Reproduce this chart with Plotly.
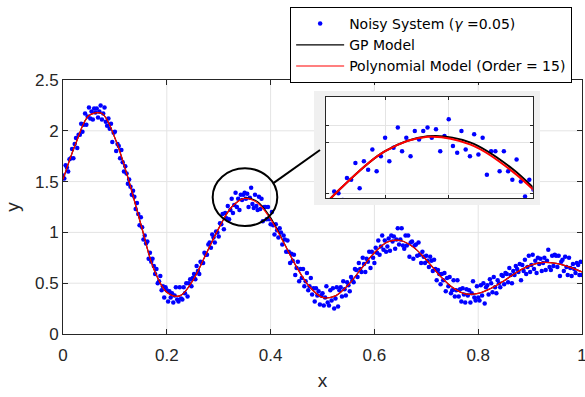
import plotly.graph_objects as go

# ---------------- data ----------------
model_x = [0.000, 0.025, 0.050, 0.075, 0.100, 0.125, 0.150, 0.175, 0.200, 0.225,
           0.250, 0.275, 0.300, 0.325, 0.350, 0.375, 0.400, 0.425, 0.450, 0.475,
           0.500, 0.525, 0.550, 0.575, 0.600, 0.625, 0.650, 0.675, 0.700, 0.725,
           0.750, 0.775, 0.800, 0.825, 0.850, 0.875, 0.900, 0.925, 0.950, 0.975, 1.000]
poly_y = [1.52, 1.88, 2.15, 2.17, 1.93, 1.54, 1.08, 0.64, 0.41, 0.375,
          0.525, 0.78, 1.04, 1.25, 1.335, 1.29, 1.13, 0.90, 0.66, 0.465,
          0.36, 0.375, 0.485, 0.645, 0.80, 0.905, 0.92, 0.855, 0.73, 0.58,
          0.46, 0.395, 0.40, 0.45, 0.525, 0.61, 0.675, 0.705, 0.695, 0.66, 0.61]
gp_y = [1.52, 1.88, 2.15, 2.17, 1.93, 1.54, 1.08, 0.64, 0.41, 0.375,
        0.525, 0.78, 1.04, 1.25, 1.338, 1.302, 1.145, 0.905, 0.66, 0.465,
        0.36, 0.375, 0.485, 0.645, 0.80, 0.905, 0.92, 0.855, 0.73, 0.58,
        0.46, 0.395, 0.40, 0.45, 0.525, 0.61, 0.675, 0.705, 0.695, 0.66, 0.61]

noisy_x = [
    0.0, 0.0025, 0.005, 0.0075, 0.01, 0.0125, 0.015, 0.0175, 0.02, 0.0225,
    0.025, 0.0275, 0.03, 0.0325, 0.035, 0.0375, 0.04, 0.0425, 0.045, 0.0475,
    0.05, 0.0525, 0.055, 0.0575, 0.06, 0.0625, 0.065, 0.0675, 0.07, 0.0725,
    0.075, 0.0775, 0.08, 0.0825, 0.085, 0.0875, 0.09, 0.0925, 0.095, 0.0975,
    0.1, 0.1025, 0.105, 0.1075, 0.11, 0.1125, 0.115, 0.1175, 0.12, 0.1225,
    0.125, 0.1275, 0.13, 0.1325, 0.135, 0.1375, 0.14, 0.1425, 0.145, 0.1475,
    0.15, 0.1525, 0.155, 0.1575, 0.16, 0.1625, 0.165, 0.1675, 0.17, 0.1725,
    0.175, 0.1775, 0.18, 0.1825, 0.185, 0.1875, 0.19, 0.1925, 0.195, 0.1975,
    0.2, 0.2025, 0.205, 0.2075, 0.21, 0.2125, 0.215, 0.2175, 0.22, 0.2225,
    0.225, 0.2275, 0.23, 0.2325, 0.235, 0.2375, 0.24, 0.2425, 0.245, 0.2475,
    0.25, 0.2525, 0.255, 0.2575, 0.26, 0.2625, 0.265, 0.2675, 0.27, 0.2725,
    0.275, 0.2775, 0.28, 0.2825, 0.285, 0.2875, 0.29, 0.2925, 0.295, 0.2975,
    0.3, 0.3025, 0.305, 0.3075, 0.31, 0.3125, 0.315, 0.3175, 0.32, 0.3225,
    0.325, 0.3275, 0.33, 0.3325, 0.335, 0.3375, 0.34, 0.3425, 0.345, 0.3475,
    0.35, 0.3525, 0.355, 0.3575, 0.36, 0.3625, 0.365, 0.3675, 0.37, 0.3725,
    0.375, 0.3775, 0.38, 0.3825, 0.385, 0.3875, 0.39, 0.3925, 0.395, 0.3975,
    0.4, 0.4025, 0.405, 0.4075, 0.41, 0.4125, 0.415, 0.4175, 0.42, 0.4225,
    0.425, 0.4275, 0.43, 0.4325, 0.435, 0.4375, 0.44, 0.4425, 0.445, 0.4475,
    0.45, 0.4525, 0.455, 0.4575, 0.46, 0.4625, 0.465, 0.4675, 0.47, 0.4725,
    0.475, 0.4775, 0.48, 0.4825, 0.485, 0.4875, 0.49, 0.4925, 0.495, 0.4975,
    0.5, 0.5025, 0.505, 0.5075, 0.51, 0.5125, 0.515, 0.5175, 0.52, 0.5225,
    0.525, 0.5275, 0.53, 0.5325, 0.535, 0.5375, 0.54, 0.5425, 0.545, 0.5475,
    0.55, 0.5525, 0.555, 0.5575, 0.56, 0.5625, 0.565, 0.5675, 0.57, 0.5725,
    0.575, 0.5775, 0.58, 0.5825, 0.585, 0.5875, 0.59, 0.5925, 0.595, 0.5975,
    0.6, 0.6025, 0.605, 0.6075, 0.61, 0.6125, 0.615, 0.6175, 0.62, 0.6225,
    0.625, 0.6275, 0.63, 0.6325, 0.635, 0.6375, 0.64, 0.6425, 0.645, 0.6475,
    0.65, 0.6525, 0.655, 0.6575, 0.66, 0.6625, 0.665, 0.6675, 0.67, 0.6725,
    0.675, 0.6775, 0.68, 0.6825, 0.685, 0.6875, 0.69, 0.6925, 0.695, 0.6975,
    0.7, 0.7025, 0.705, 0.7075, 0.71, 0.7125, 0.715, 0.7175, 0.72, 0.7225,
    0.725, 0.7275, 0.73, 0.7325, 0.735, 0.7375, 0.74, 0.7425, 0.745, 0.7475,
    0.75, 0.7525, 0.755, 0.7575, 0.76, 0.7625, 0.765, 0.7675, 0.77, 0.7725,
    0.775, 0.7775, 0.78, 0.7825, 0.785, 0.7875, 0.79, 0.7925, 0.795, 0.7975,
    0.8, 0.8025, 0.805, 0.8075, 0.81, 0.8125, 0.815, 0.8175, 0.82, 0.8225,
    0.825, 0.8275, 0.83, 0.8325, 0.835, 0.8375, 0.84, 0.8425, 0.845, 0.8475,
    0.85, 0.8525, 0.855, 0.8575, 0.86, 0.8625, 0.865, 0.8675, 0.87, 0.8725,
    0.875, 0.8775, 0.88, 0.8825, 0.885, 0.8875, 0.89, 0.8925, 0.895, 0.8975,
    0.9, 0.9025, 0.905, 0.9075, 0.91, 0.9125, 0.915, 0.9175, 0.92, 0.9225,
    0.925, 0.9275, 0.93, 0.9325, 0.935, 0.9375, 0.94, 0.9425, 0.945, 0.9475,
    0.95, 0.9525, 0.955, 0.9575, 0.96, 0.9625, 0.965, 0.9675, 0.97, 0.9725,
    0.975, 0.9775, 0.98, 0.9825, 0.985, 0.9875, 0.99, 0.9925, 0.995, 0.9975,
    1.0]
noisy_y = [
    1.56, 1.53, 1.66, 1.64, 1.60, 1.72, 1.73, 1.82, 1.73, 1.87,
    1.93, 1.83, 1.96, 1.96, 2.07, 1.99, 2.06, 2.17, 2.06, 2.14,
    2.23, 2.12, 2.19, 2.11, 2.22, 2.18, 2.22, 2.13, 2.19, 2.25,
    2.11, 2.17, 2.23, 2.09, 2.05, 2.12, 2.02, 2.07, 1.89, 1.98,
    1.99, 1.80, 1.87, 1.85, 1.73, 1.81, 1.69, 1.60, 1.65, 1.58,
    1.48, 1.52, 1.45, 1.37, 1.41, 1.35, 1.23, 1.29, 1.18, 1.07,
    1.15, 1.05, 0.93, 0.97, 0.89, 0.91, 0.74, 0.80, 0.71, 0.74,
    0.67, 0.59, 0.64, 0.50, 0.52, 0.57, 0.43, 0.47, 0.36, 0.46,
    0.43, 0.32, 0.42, 0.36, 0.40, 0.31, 0.38, 0.46, 0.34, 0.32,
    0.46, 0.35, 0.34, 0.46, 0.40, 0.50, 0.37, 0.50, 0.54, 0.47,
    0.55, 0.59, 0.54, 0.67, 0.62, 0.59, 0.71, 0.70, 0.70, 0.80,
    0.78, 0.78, 0.88, 0.90, 0.85, 0.98, 0.95, 0.90, 1.01, 1.00,
    0.96, 1.09, 1.08, 1.18, 1.03, 1.19, 1.14, 1.26, 1.13, 1.22,
    1.33, 1.19, 1.27, 1.39, 1.25, 1.33, 1.22, 1.37, 1.32, 1.37,
    1.39, 1.33, 1.38, 1.25, 1.34, 1.44, 1.28, 1.24, 1.37, 1.26,
    1.22, 1.35, 1.23, 1.33, 1.11, 1.25, 1.25, 1.13, 1.25, 1.13,
    1.08, 1.20, 1.07, 0.98, 1.08, 1.02, 0.95, 1.04, 1.00, 0.88,
    0.97, 0.93, 0.81, 0.92, 0.81, 0.70, 0.79, 0.72, 0.78, 0.58,
    0.65, 0.71, 0.52, 0.64, 0.55, 0.64, 0.47, 0.52, 0.60, 0.43,
    0.47, 0.55, 0.39, 0.45, 0.32, 0.45, 0.38, 0.42, 0.29, 0.38,
    0.40, 0.28, 0.36, 0.47, 0.31, 0.28, 0.43, 0.33, 0.45, 0.25,
    0.35, 0.46, 0.27, 0.43, 0.46, 0.37, 0.52, 0.44, 0.38, 0.51,
    0.48, 0.42, 0.56, 0.53, 0.51, 0.64, 0.63, 0.56, 0.70, 0.64,
    0.61, 0.75, 0.69, 0.61, 0.74, 0.71, 0.81, 0.65, 0.81, 0.75,
    0.70, 0.85, 0.80, 0.92, 0.78, 0.86, 0.97, 0.83, 0.92, 0.81,
    0.86, 0.94, 0.82, 0.97, 0.91, 0.96, 0.84, 0.93, 1.04, 0.88,
    0.93, 1.04, 0.87, 0.84, 0.97, 0.87, 0.97, 0.76, 0.90, 0.91,
    0.74, 0.87, 0.88, 0.77, 0.90, 0.78, 0.70, 0.81, 0.76, 0.70,
    0.77, 0.72, 0.66, 0.76, 0.72, 0.62, 0.73, 0.64, 0.53, 0.63,
    0.59, 0.49, 0.59, 0.53, 0.60, 0.42, 0.55, 0.47, 0.56, 0.40,
    0.43, 0.53, 0.37, 0.43, 0.53, 0.37, 0.44, 0.32, 0.45, 0.39,
    0.31, 0.44, 0.38, 0.43, 0.31, 0.40, 0.52, 0.36, 0.33, 0.47,
    0.36, 0.33, 0.48, 0.38, 0.50, 0.30, 0.46, 0.48, 0.39, 0.54,
    0.50, 0.41, 0.56, 0.46, 0.40, 0.53, 0.50, 0.46, 0.58, 0.57,
    0.49, 0.60, 0.59, 0.51, 0.65, 0.58, 0.50, 0.62, 0.58, 0.67,
    0.64, 0.61, 0.69, 0.53, 0.68, 0.62, 0.73, 0.59, 0.66, 0.77,
    0.61, 0.68, 0.78, 0.64, 0.72, 0.60, 0.75, 0.69, 0.74, 0.62,
    0.70, 0.75, 0.63, 0.72, 0.83, 0.66, 0.63, 0.77, 0.67, 0.78,
    0.77, 0.66, 0.77, 0.57, 0.71, 0.73, 0.62, 0.76, 0.66, 0.58,
    0.75, 0.65, 0.57, 0.69, 0.64, 0.60, 0.70, 0.68, 0.58, 0.71,
    0.58]

main_xticks = [0, 0.2, 0.4, 0.6, 0.8, 1]
main_yticks = [0, 0.5, 1, 1.5, 2, 2.5]
inset_xticks = [0.325, 0.3625]
inset_yticks = [1.0, 1.3, 1.4]
inset_xrange = [0.29, 0.412]
inset_yrange = [0.97, 1.57]
zoom_box = dict(x0=0.2884, x1=0.4129, y0=1.063, y1=1.631)

FONT = "Liberation Sans, Arial, sans-serif"
LEGEND_FONT = "DejaVu Sans, Liberation Sans, sans-serif"
AXC = "#262626"
GRID = "#e4e4e4"

fig = go.Figure()
fig.add_trace(go.Scatter(x=noisy_x, y=noisy_y, mode="markers",
                         marker=dict(color="#0000ff", size=4.5),
                         name="Noisy System (<i>γ</i> =0.05)"))
fig.add_trace(go.Scatter(x=model_x, y=gp_y, mode="lines",
                         line=dict(color="black", width=1.2, shape="spline"),
                         name="GP Model"))
fig.add_trace(go.Scatter(x=model_x, y=poly_y, mode="lines",
                         line=dict(color="#ff0000", width=1.2, shape="spline"),
                         name="Polynomial Model (Order = 15)"))
# inset copies
fig.add_trace(go.Scatter(x=noisy_x, y=noisy_y, mode="markers", xaxis="x2", yaxis="y2",
                         marker=dict(color="#0000ff", size=4.5), showlegend=False))
fig.add_trace(go.Scatter(x=model_x, y=gp_y, mode="lines", xaxis="x2", yaxis="y2",
                         line=dict(color="black", width=2, shape="spline"), showlegend=False))
fig.add_trace(go.Scatter(x=model_x, y=poly_y, mode="lines", xaxis="x2", yaxis="y2",
                         line=dict(color="#ff0000", width=2, shape="spline"), showlegend=False))

shapes = []
for v in main_xticks[1:-1]:
    shapes.append(dict(type="line", xref="x", yref="paper", x0=v, x1=v, y0=0, y1=1,
                       line=dict(color=GRID, width=1), layer="below"))
for v in main_yticks[1:-1]:
    shapes.append(dict(type="line", xref="paper", yref="y", x0=0, x1=1, y0=v, y1=v,
                       line=dict(color=GRID, width=1), layer="below"))
# inset frame (gray) and white plotting area
shapes.append(dict(type="rect", xref="paper", yref="paper", x0=0.4836, x1=0.9191,
                   y0=0.5079, y1=0.9567, fillcolor="#f0f0f0", line=dict(width=0), layer="below"))
shapes.append(dict(type="rect", xref="paper", yref="paper", x0=0.5062, x1=0.9050,
                   y0=0.5343, y1=0.9319, fillcolor="white", line=dict(width=0), layer="below"))
# zoom ellipse and connector
shapes.append(dict(type="circle", xref="x", yref="y", **zoom_box,
                   line=dict(color="black", width=2), layer="above"))
shapes.append(dict(type="line", xref="x", yref="y", x0=0.4047, y0=1.483, x1=0.4952, y1=1.811,
                   line=dict(color="black", width=2), layer="above"))

axis_common = dict(showline=True, linecolor=AXC, linewidth=1, mirror="ticks",
                   ticks="inside", tickcolor=AXC, zeroline=False, showgrid=False,
                   automargin=False)

fig.update_layout(
    width=585, height=397,
    margin=dict(l=63, r=3, t=80, b=63, autoexpand=False),
    paper_bgcolor="white", plot_bgcolor="white",
    font=dict(family=FONT, color=AXC, size=17),
    showlegend=True,
    legend=dict(x=0.981, y=1.2874, xanchor="right", yanchor="top",
                bgcolor="white", bordercolor="black", borderwidth=1,
                font=dict(family=LEGEND_FONT, size=14, color="black"),
                tracegroupgap=0, itemwidth=48),
    xaxis=dict(range=[0, 1], tickvals=main_xticks, ticklen=5, ticklabeloverflow="allow",
               ticklabelstandoff=6,
               title=dict(text="x", font=dict(size=19), standoff=9),
               domain=[0, 1], **axis_common),
    yaxis=dict(range=[0, 2.5], tickvals=main_yticks, ticklen=5,
               title=dict(text="y", font=dict(size=19), standoff=10),
               domain=[0, 1], **axis_common),
    xaxis2=dict(domain=[0.5062, 0.9050], anchor="y2", range=inset_xrange,
                tickvals=inset_xticks, showticklabels=False, ticklen=3,
                showline=True, linecolor=AXC, linewidth=1, mirror="ticks",
                ticks="inside", tickcolor=AXC, zeroline=False,
                showgrid=True, gridcolor=GRID),
    yaxis2=dict(domain=[0.5343, 0.9319], anchor="x2", range=inset_yrange,
                tickvals=inset_yticks, showticklabels=False, ticklen=3,
                showline=True, linecolor=AXC, linewidth=1, mirror="ticks",
                ticks="inside", tickcolor=AXC, zeroline=False,
                showgrid=True, gridcolor=GRID),
    shapes=shapes,
)

fig.write_html("out.html", config={"displayModeBar": False},
               post_script="document.body.style.margin='0px';document.body.style.overflow='hidden';")
